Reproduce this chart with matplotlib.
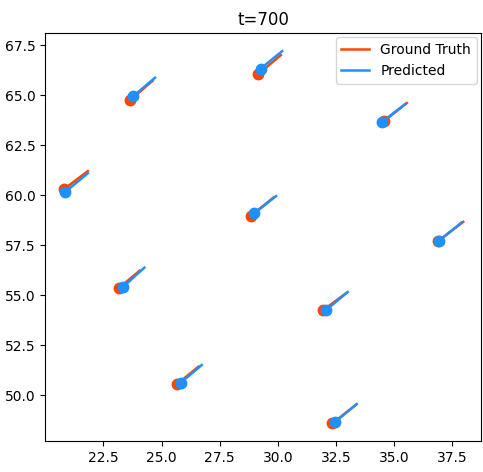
import matplotlib
matplotlib.use("Agg")
import matplotlib.pyplot as plt
import numpy as np

# agent positions at t=700 (dot) and end of the drawn track
gt_x0 = [20.81, 23.65, 29.17, 34.57, 28.85, 23.15, 25.66, 31.96, 32.35, 36.88]
gt_y0 = [60.30, 64.75, 66.05, 63.70, 58.97, 55.33, 50.53, 54.25, 48.58, 57.68]
gt_x1 = [21.83, 24.62, 30.13, 35.55, 29.82, 24.05, 26.59, 32.95, 33.35, 37.98]
gt_y1 = [61.20, 65.72, 67.00, 64.60, 59.88, 56.21, 51.42, 55.10, 49.50, 58.66]

pr_x0 = [20.85, 23.79, 29.27, 34.50, 28.98, 23.36, 25.83, 32.08, 32.48, 36.92]
pr_y0 = [60.15, 64.95, 66.33, 63.67, 59.08, 55.42, 50.62, 54.25, 48.67, 57.70]
pr_x1 = [21.83, 24.72, 30.19, 35.48, 29.93, 24.26, 26.73, 33.01, 33.40, 37.90]
pr_y1 = [61.09, 65.87, 67.20, 64.55, 59.95, 56.37, 51.50, 55.15, 49.55, 58.62]

gt_color = "orangered"
pr_color = "dodgerblue"

fig = plt.figure(figsize=(4.83, 4.72), dpi=100)
ax = fig.add_axes([0.0938, 0.0657, 0.9014, 0.8637])

# Ground truth
for i in range(len(gt_x0)):
    ax.plot([gt_x0[i], gt_x1[i]], [gt_y0[i], gt_y1[i]], color=gt_color, lw=1.8,
            label="Ground Truth" if i == 0 else None)
    ax.plot(gt_x0[i], gt_y0[i], "o", color=gt_color, ms=7.5)

# Predicted
for i in range(len(pr_x0)):
    ax.plot([pr_x0[i], pr_x1[i]], [pr_y0[i], pr_y1[i]], color=pr_color, lw=1.8,
            label="Predicted" if i == 0 else None)
    ax.plot(pr_x0[i], pr_y0[i], "o", color=pr_color, ms=7.5)

ax.set_xlim(20.0, 38.73)
ax.set_ylim(47.7, 68.09)
ax.set_xticks([22.5, 25.0, 27.5, 30.0, 32.5, 35.0, 37.5])
ax.set_yticks([50.0, 52.5, 55.0, 57.5, 60.0, 62.5, 65.0, 67.5])
ax.set_title("t=700")
ax.legend(loc="upper right", borderaxespad=0.3)

fig.savefig("out.png", dpi=100)
